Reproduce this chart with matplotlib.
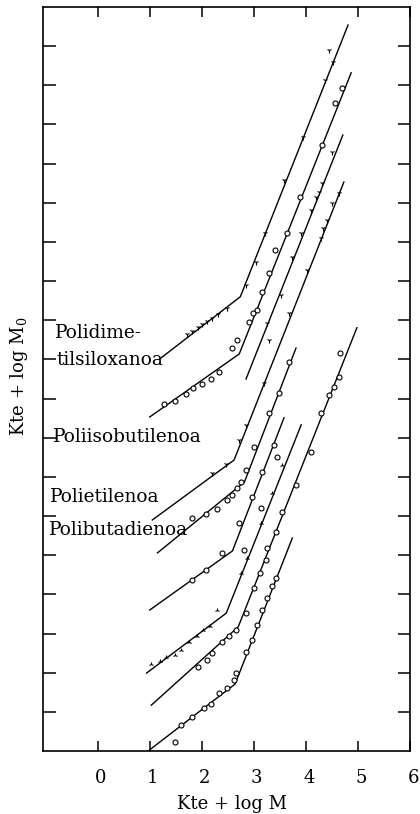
import matplotlib
matplotlib.use("Agg")
import matplotlib.pyplot as plt
import matplotlib.transforms as mtransforms

plt.rcParams['font.family'] = ['DejaVu Serif']
plt.rcParams['mathtext.fontset'] = 'dejavuserif'

# Lines (break points), top to bottom
c1_x = [1.19, 2.74, 4.81]
c1_y = [10.01, 11.60, 18.54]
c2_x = [1.00, 2.72, 4.87]
c2_y = [8.53, 10.14, 17.32]
c3_x = [2.85, 4.71]
c3_y = [9.50, 15.73]
c4_x = [1.05, 2.62, 4.73]
c4_y = [5.90, 7.43, 14.53]
c5_x = [1.15, 2.82, 3.81]
c5_y = [5.06, 6.87, 10.29]
c6_x = [1.00, 2.59, 3.58]
c6_y = [3.60, 5.11, 8.51]
c7_x = [0.94, 2.47, 3.91]
c7_y = [1.99, 3.52, 8.33]
c8_x = [1.03, 2.70, 4.98]
c8_y = [1.17, 3.17, 10.81]
c9_x = [1.00, 2.64, 3.74]
c9_y = [0.03, 1.71, 5.44]

# Measured points
p1_x = [1.72, 1.82, 1.92, 2.01, 2.11, 2.20, 2.32, 2.49, 2.84, 3.05, 3.22, 3.58, 3.95, 4.37, 4.52, 4.44]
p1_y = [10.65, 10.73, 10.83, 10.91, 10.98, 11.06, 11.16, 11.32, 11.90, 12.49, 13.23, 14.58, 15.68, 17.14, 17.60, 17.91]
p2_x = [1.28, 1.48, 1.69, 1.84, 2.01, 2.18, 2.34, 2.59, 2.68, 2.91, 2.99, 3.07, 3.16, 3.30, 3.41, 3.64, 3.89, 4.31, 4.56, 4.69]
p2_y = [8.86, 8.94, 9.12, 9.27, 9.37, 9.50, 9.68, 10.29, 10.50, 10.96, 11.19, 11.26, 11.72, 12.21, 12.80, 13.23, 14.15, 15.48, 16.55, 16.93]
p3_x = [3.26, 3.30, 3.52, 3.74, 3.91, 4.10, 4.20, 4.25, 4.31, 4.50]
p3_y = [10.93, 10.50, 11.65, 12.62, 13.23, 13.82, 14.15, 14.28, 14.51, 15.30]
p4_x = [2.20, 2.47, 2.72, 2.85, 3.20, 3.68, 4.02, 4.29, 4.33, 4.41, 4.50, 4.64]
p4_y = [7.10, 7.33, 7.94, 8.33, 9.40, 11.19, 12.29, 13.10, 13.36, 13.56, 14.00, 14.25]
p5_x = [1.82, 2.09, 2.30, 2.49, 2.59, 2.68, 2.76, 2.85, 3.01, 3.30, 3.49, 3.68]
p5_y = [5.95, 6.05, 6.18, 6.41, 6.54, 6.72, 6.87, 7.18, 7.77, 8.63, 9.14, 9.94]
p6_x = [1.82, 2.09, 2.38, 2.72, 2.82, 2.97, 3.14, 3.16, 3.39, 3.45]
p6_y = [4.37, 4.62, 5.06, 5.82, 5.13, 6.49, 6.21, 7.13, 7.82, 7.51]
p7_x = [1.03, 1.19, 1.32, 1.48, 1.61, 1.76, 1.90, 2.03, 2.16, 2.30, 2.76, 2.87, 3.14, 3.35, 3.54]
p7_y = [2.22, 2.30, 2.40, 2.45, 2.58, 2.78, 2.94, 3.09, 3.19, 3.60, 4.55, 4.93, 5.82, 6.59, 7.31]
p8_x = [1.92, 2.11, 2.20, 2.39, 2.53, 2.66, 2.85, 3.01, 3.12, 3.24, 3.26, 3.43, 3.54, 3.81, 4.10, 4.29, 4.44, 4.54, 4.64, 4.66]
p8_y = [2.15, 2.32, 2.50, 2.78, 2.94, 3.09, 3.52, 4.16, 4.55, 4.88, 5.19, 5.59, 6.10, 6.79, 7.64, 8.63, 9.09, 9.30, 9.55, 10.17]
p9_x = [1.48, 1.61, 1.82, 2.05, 2.18, 2.34, 2.49, 2.61, 2.66, 2.85, 2.97, 3.07, 3.16, 3.26, 3.35, 3.43]
p9_y = [0.23, 0.66, 0.87, 1.10, 1.20, 1.48, 1.61, 1.81, 1.99, 2.53, 2.84, 3.22, 3.60, 3.91, 4.21, 4.42]

labels = ["Polidime-", "tilsiloxanoa", "Poliisobutilenoa", "Polietilenoa", "Polibutadienoa"]
label_x = [-0.82, -0.80, -0.86, -0.92, -0.94]
label_y = [10.55, 9.86, 7.89, 6.36, 5.52]

x_ticks = [0, 1, 2, 3, 4, 5, 6]
y_ticks = list(range(1, 19))

curves = [
    (c1_x, c1_y, p1_x, p1_y, '1'),
    (c2_x, c2_y, p2_x, p2_y, 'o'),
    (c3_x, c3_y, p3_x, p3_y, '1'),
    (c4_x, c4_y, p4_x, p4_y, '1'),
    (c5_x, c5_y, p5_x, p5_y, 'o'),
    (c6_x, c6_y, p6_x, p6_y, 'o'),
    (c7_x, c7_y, p7_x, p7_y, '2'),
    (c8_x, c8_y, p8_x, p8_y, 'o'),
    (c9_x, c9_y, p9_x, p9_y, 'o'),
]

fig = plt.figure(figsize=(4.2, 8.14), dpi=100)
ax = fig.add_axes([43 / 420, 63 / 814, 367 / 420, 744 / 814])

for lx, ly, px, py, m in curves:
    ax.plot(lx, ly, color='black', lw=1.0)
    ax.plot(px, py, ls='none', marker=m, ms=3.6, mfc='white', mec='black', mew=0.8)

for t, tx, ty in zip(labels, label_x, label_y):
    ax.text(tx, ty, t, fontsize=13.3, ha='left', va='baseline')

ax.set_xlim(-1.05, 6.0)
ax.set_ylim(0, 19)
ax.set_xticks(x_ticks)
ax.set_xticklabels([str(v) for v in x_ticks], fontsize=13)
ax.set_yticks(y_ticks)
ax.set_yticklabels([])
ax.tick_params(axis='x', direction='in', length=7, width=1.1, top=True, pad=13)
ax.tick_params(axis='y', direction='in', length=9, width=1.1, right=True)
for s in ax.spines.values():
    s.set_linewidth(1.2)

# tick labels sit a little right of the ticks in the original
shift = mtransforms.ScaledTranslation(3 / 100, 0, fig.dpi_scale_trans)
for lbl in ax.get_xticklabels():
    lbl.set_transform(lbl.get_transform() + shift)

fig.text(231.5 / 420, 5 / 814, "Kte + log M", fontsize=13, ha='center', va='baseline')
fig.text(19 / 420, 1 - 376 / 814, "Kte + log M$_0$", fontsize=13, rotation=90,
         ha='center', va='center')

fig.savefig("out.png", dpi=100)
